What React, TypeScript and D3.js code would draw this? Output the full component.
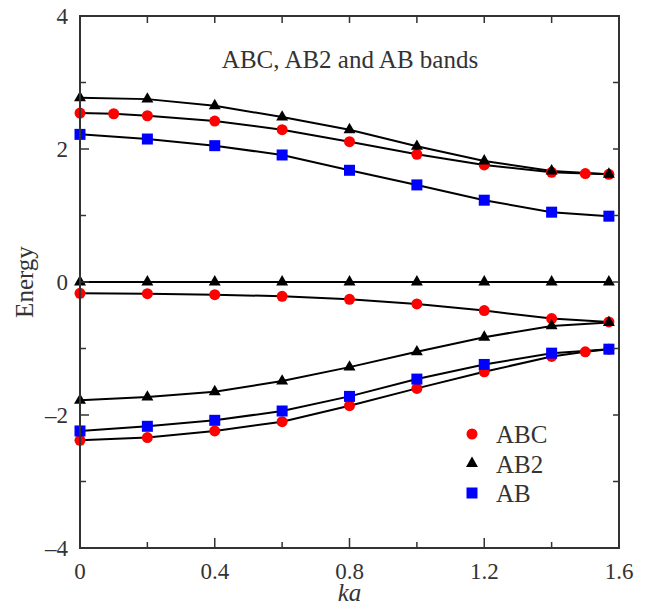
import * as d3 from "d3";
import { useEffect, useRef } from "react";

// ka values for each band, energies
const kaFull = [0, 0.2, 0.4, 0.6, 0.8, 1.0, 1.2, 1.4, 1.57];

const abcUpperKa = [0, 0.1, 0.2, 0.4, 0.6, 0.8, 1.0, 1.2, 1.4, 1.5, 1.57];
const abcUpper = [2.54, 2.53, 2.50, 2.42, 2.29, 2.11, 1.92, 1.76, 1.65, 1.63, 1.62];
const abcMiddle = [-0.17, -0.175, -0.19, -0.215, -0.26, -0.33, -0.43, -0.55, -0.6];
const abcLowerKa = [0, 0.2, 0.4, 0.6, 0.8, 1.0, 1.2, 1.4, 1.5, 1.57];
const abcLower = [-2.38, -2.34, -2.24, -2.1, -1.86, -1.6, -1.35, -1.12, -1.05, -1.01];

const ab2Upper = [2.77, 2.75, 2.65, 2.48, 2.29, 2.04, 1.82, 1.67, 1.62];
const ab2Zero = [0, 0, 0, 0, 0, 0, 0, 0, 0];
const ab2Lower = [-1.78, -1.73, -1.65, -1.49, -1.28, -1.05, -0.83, -0.66, -0.61];

const abUpper = [2.22, 2.15, 2.05, 1.91, 1.68, 1.46, 1.23, 1.05, 0.99];
const abLower = [-2.24, -2.17, -2.08, -1.94, -1.72, -1.46, -1.24, -1.07, -1.01];

const xTicks = [0, 0.4, 0.8, 1.2, 1.6];
const xMinor = [0.2, 0.6, 1.0, 1.4];
const yTicks = [4, 2, 0, -2, -4];
const yMinor = [3, 1, -1, -3];

const legendItems = [
    { label: "ABC", type: "circle" },
    { label: "AB2", type: "triangle" },
    { label: "AB", type: "square" },
];

const App = () => {
    const chartRef = useRef(null);

    useEffect(() => {
        document.body.style.margin = "0";
        const svg = d3.select(chartRef.current);
        svg.selectAll("*").remove();

        const margin = { top: 16, left: 80, right: 30, bottom: 64 };
        const width = 649;
        const height = 612;
        const x = d3.scaleLinear().domain([0, 1.6]).range([margin.left, width - margin.right]);
        const y = d3.scaleLinear().domain([-4, 4]).range([height - margin.bottom, margin.top]);
        const axisColor = "#333";

        const zip = (ks, es) => ks.map((k, i) => ({ k, e: es[i] }));
        const bands = [
            { pts: zip(abcUpperKa, abcUpper), type: "circle" },
            { pts: zip(kaFull, abcMiddle), type: "circle" },
            { pts: zip(abcLowerKa, abcLower), type: "circle" },
            { pts: zip(kaFull, ab2Upper), type: "triangle" },
            { pts: zip(kaFull, ab2Zero), type: "triangle" },
            { pts: zip(kaFull, ab2Lower), type: "triangle" },
            { pts: zip(kaFull, abUpper), type: "square" },
            { pts: zip(kaFull, abLower), type: "square" },
        ];

        const line = d3.line().x(d => x(d.k)).y(d => y(d.e));
        const g = svg.append("g");

        bands.forEach(b => {
            g.append("path")
                .attr("d", line(b.pts))
                .attr("fill", "none")
                .attr("stroke", "#000")
                .attr("stroke-width", 2);
        });

        const tri = d3.symbol().type(d3.symbolTriangle).size(62);
        const drawMarker = (sel, type, cx, cy) => {
            if (type === "circle") {
                sel.append("circle").attr("cx", cx).attr("cy", cy).attr("r", 5.5).attr("fill", "#ff0000");
            } else if (type === "square") {
                sel.append("rect").attr("x", cx - 5.5).attr("y", cy - 5.5)
                    .attr("width", 11).attr("height", 11).attr("fill", "#0000ff");
            } else {
                sel.append("path").attr("d", tri()).attr("transform", `translate(${cx},${cy})`).attr("fill", "#000");
            }
        };

        bands.forEach(b => {
            b.pts.forEach(p => drawMarker(g, b.type, x(p.k), y(p.e)));
        });

        // frame
        svg.append("rect")
            .attr("x", x(0)).attr("y", y(4))
            .attr("width", x(1.6) - x(0)).attr("height", y(-4) - y(4))
            .attr("fill", "none").attr("stroke", axisColor).attr("stroke-width", 2);

        const ticks = svg.append("g").attr("stroke", axisColor).attr("stroke-width", 1.5);
        const xt = [...xTicks.map(v => [v, 10]), ...xMinor.map(v => [v, 6])];
        xt.forEach(([v, len]) => {
            ticks.append("line").attr("x1", x(v)).attr("x2", x(v)).attr("y1", y(-4)).attr("y2", y(-4) - len);
            ticks.append("line").attr("x1", x(v)).attr("x2", x(v)).attr("y1", y(4)).attr("y2", y(4) + 7);
        });
        const yt = [...yTicks.map(v => [v, 9]), ...yMinor.map(v => [v, 6])];
        yt.forEach(([v, len]) => {
            ticks.append("line").attr("x1", x(0)).attr("x2", x(0) + len).attr("y1", y(v)).attr("y2", y(v));
            ticks.append("line").attr("x1", x(1.6)).attr("x2", x(1.6) - 6).attr("y1", y(v)).attr("y2", y(v));
        });

        const labels = svg.append("g")
            .style("font-family", "'Liberation Serif', 'Times New Roman', serif")
            .attr("fill", axisColor);
        xTicks.forEach(v => {
            labels.append("text")
                .attr("x", x(v)).attr("y", y(-4) + 31)
                .attr("text-anchor", "middle").style("font-size", "23px")
                .text(v === 0 ? "0" : d3.format(".1f")(v));
        });
        yTicks.forEach(v => {
            labels.append("text")
                .attr("x", x(0) - 12).attr("y", y(v) + 8)
                .attr("text-anchor", "end").style("font-size", "23px")
                .text(v < 0 ? "\u2013" + Math.abs(v) : String(v));
        });

        labels.append("text")
            .attr("x", x(0.8)).attr("y", 601)
            .attr("text-anchor", "middle").style("font-size", "25px")
            .style("font-style", "italic").text("ka");
        labels.append("text")
            .attr("transform", `translate(33, ${y(0)}) rotate(-90)`)
            .attr("text-anchor", "middle").style("font-size", "25px")
            .text("Energy");
        labels.append("text")
            .attr("x", 350).attr("y", 68)
            .attr("text-anchor", "middle").style("font-size", "25px")
            .text("ABC, AB2 and AB bands");

        const legend = svg.append("g");
        legendItems.forEach((item, i) => {
            const cy = 434 + i * 29.5;
            drawMarker(legend, item.type, 472, cy);
            legend.append("text")
                .attr("x", 496).attr("y", cy + 9)
                .style("font-family", "'Liberation Serif', 'Times New Roman', serif")
                .style("font-size", "25px").attr("fill", axisColor)
                .text(item.label);
        });
    }, []);

    return <svg ref={chartRef} width={649} height={612} style={{ display: "block" }}></svg>;
};

export default App;
